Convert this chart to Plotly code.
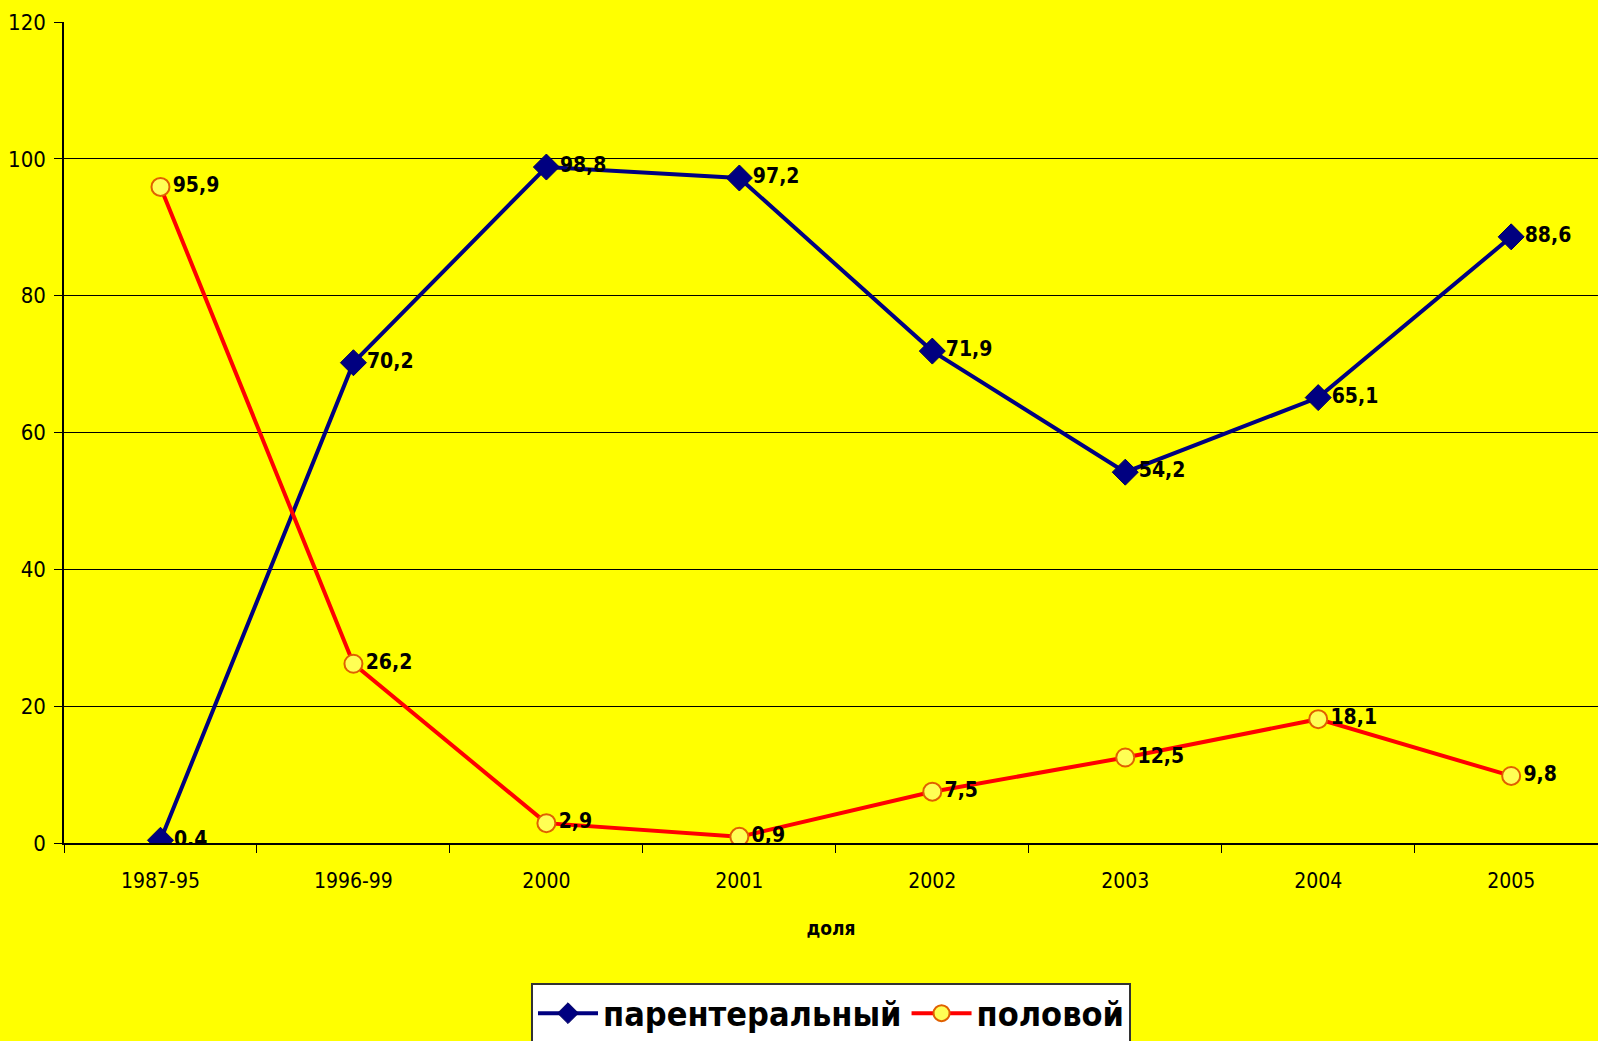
import plotly.graph_objects as go

categories = ["1987-95", "1996-99", "2000", "2001", "2002", "2003", "2004", "2005"]
parenteral = [0.4, 70.2, 98.8, 97.2, 71.9, 54.2, 65.1, 88.6]
sexual = [95.9, 26.2, 2.9, 0.9, 7.5, 12.5, 18.1, 9.8]
series_names = ["парентеральный", "половой"]
x_title = "доля"
y_ticks = [0, 20, 40, 60, 80, 100, 120]

FONT = "DejaVu Sans Condensed, Liberation Sans, sans-serif"

def fmt(v):
    return f"{v:.1f}".replace(".", ",")

fig = go.Figure()
fig.add_trace(go.Scatter(
    x=categories, y=parenteral, name=series_names[0], mode="lines+markers+text",
    line=dict(color="#000080", width=4),
    marker=dict(symbol="diamond", size=20, color="#000080", line=dict(color="#000060", width=1)),
    text=[fmt(v) for v in parenteral], textposition="middle right",
    textfont=dict(family=FONT, size=21, color="black", weight="bold"),
))
fig.add_trace(go.Scatter(
    x=categories, y=sexual, name=series_names[1], mode="lines+markers+text",
    line=dict(color="#FF0000", width=4),
    marker=dict(symbol="circle", size=18, color="#FFFF55", line=dict(color="#E06000", width=2)),
    text=[fmt(v) for v in sexual], textposition="middle right",
    textfont=dict(family=FONT, size=21, color="black", weight="bold"),
))

fig.update_layout(
    width=1598, height=1041,
    paper_bgcolor="#FFFF00", plot_bgcolor="#FFFF00",
    margin=dict(l=64, r=0, t=22, b=198, autoexpand=False),
    font=dict(family=FONT, color="black"),
    showlegend=True,
    legend=dict(
        orientation="h", x=0.5, xanchor="center", y=-0.170, yanchor="top",
        bgcolor="white", bordercolor="#333333", borderwidth=2,
        font=dict(family=FONT, size=34, color="black", weight="bold"),
        itemwidth=60,
    ),
)
fig.update_xaxes(
    type="category", range=[-0.5, 7.45],
    showgrid=False, showline=True, linecolor="black", linewidth=1.5,
    ticks="outside", tickson="boundaries", ticklen=8, tickcolor="black",
    tickfont=dict(family=FONT, size=21, color="black"), ticklabelstandoff=18,
    title=dict(text=x_title, font=dict(family=FONT, size=19, color="black", weight="bold"), standoff=30),
    zeroline=False,
)
fig.update_yaxes(
    range=[0, 120], tickvals=y_ticks,
    showgrid=True, gridcolor="black", gridwidth=1,
    showline=True, linecolor="black", linewidth=1.5,
    ticks="outside", ticklen=8, tickcolor="black",
    tickfont=dict(family=FONT, size=22, color="black"), ticklabelstandoff=4,
    zeroline=False,
)

fig.write_html("out.html")
